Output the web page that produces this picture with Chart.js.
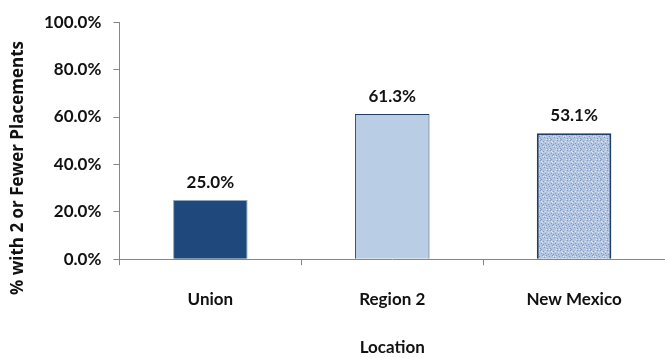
<!DOCTYPE html>
<html>
<head>
<meta charset="utf-8">
<script src="https://cdn.jsdelivr.net/npm/chart.js@4/dist/chart.umd.min.js"></script>
<style>
  html, body { margin: 0; padding: 0; background: #fff; }
  #wrap { width: 665px; height: 358px; }
</style>
</head>
<body>
<div id="wrap"><canvas id="placementChart"></canvas></div>
<script>
// data
const locations = ['Union', 'Region 2', 'New Mexico'];
const pctFewPlacements = [25.0, 61.3, 53.1];
const yTicks = [0, 20, 40, 60, 80, 100];
const yTitle = '% with 2 or Fewer Placements';

// speckled texture for the New Mexico bar
function makeTexture() {
  const c = document.createElement('canvas');
  c.width = 10; c.height = 10;
  const g = c.getContext('2d');
  g.fillStyle = '#b3c5e0';
  g.fillRect(0, 0, 10, 10);
  const dark = [[0,0],[3,1],[7,0],[1,3],[5,3],[2,5],[8,4],[4,7],[0,8],[7,8],[3,4],[9,6],[6,5],[1,9]];
  g.fillStyle = '#7f9ac3';
  dark.forEach(p => g.fillRect(p[0], p[1], 1, 1));
  const light = [[1,1],[5,1],[3,6],[8,2],[2,2],[6,9],[9,9],[5,6]];
  g.fillStyle = '#e0e8f4';
  light.forEach(p => g.fillRect(p[0], p[1], 1, 1));
  return g.createPattern(c, 'repeat');
}

// value labels above the bars
const valueLabels = {
  id: 'valueLabels',
  afterDatasetsDraw(chart) {
    const ctx = chart.ctx;
    ctx.save();
    ctx.font = 'bold 17px Lato, sans-serif';
    ctx.fillStyle = '#111';
    ctx.textAlign = 'center';
    ctx.textBaseline = 'alphabetic';
    chart.getDatasetMeta(0).data.forEach((bar, i) => {
      ctx.fillText(pctFewPlacements[i].toFixed(1) + '%', bar.x, bar.y - 12);
    });
    ctx.restore();
  }
};

// y title, centred on the whole canvas height like the original
const sideTitle = {
  id: 'sideTitle',
  afterDraw(chart) {
    const ctx = chart.ctx;
    ctx.save();
    ctx.translate(18, 168);
    ctx.rotate(-Math.PI / 2);
    ctx.font = 'bold 17px "Open Sans", sans-serif';
    ctx.fillStyle = '#111';
    ctx.textAlign = 'center';
    ctx.textBaseline = 'middle';
    ctx.fillText(yTitle, 0, 0);
    ctx.restore();
  }
};

const ctx = document.getElementById('placementChart').getContext('2d');
new Chart(ctx, {
  type: 'bar',
  data: {
    labels: locations,
    datasets: [{
      data: pctFewPlacements,
      backgroundColor: ['#1f497d', '#b9cde5', makeTexture()],
      borderColor: ['#8ea6c4', '#1f3d66', '#1f3d66'],
      borderWidth: [1, 1, 2],
      categoryPercentage: 1,
      barPercentage: 0.41
    }]
  },
  options: {
    responsive: true,
    maintainAspectRatio: false,
    animation: false,
    layout: { padding: { top: 8, right: 0, bottom: 0, left: 32 } },
    plugins: {
      legend: { display: false },
      tooltip: { enabled: false }
    },
    scales: {
      x: {
        grid: {
          drawOnChartArea: false,
          tickLength: 6,
          color: '#868686'
        },
        border: { color: '#868686' },
        ticks: {
          color: '#111',
          padding: 24,
          font: { family: 'Lato', size: 17, weight: 'bold' }
        },
        title: {
          display: true,
          text: 'Location',
          color: '#111',
          padding: { top: 4, bottom: 0 },
          font: { family: 'Lato', size: 17, weight: 'bold' }
        }
      },
      y: {
        min: 0,
        max: 100,
        afterBuildTicks(axis) {
          axis.ticks = yTicks.map(v => ({ value: v }));
        },
        grid: {
          drawOnChartArea: false,
          tickLength: 6,
          color: '#868686'
        },
        border: { color: '#868686' },
        ticks: {
          color: '#111',
          padding: 12,
          font: { family: 'Lato', size: 17, weight: 'bold' },
          callback: v => v.toFixed(1) + '%'
        }
      }
    }
  },
  plugins: [valueLabels, sideTitle]
});
</script>
</body>
</html>
